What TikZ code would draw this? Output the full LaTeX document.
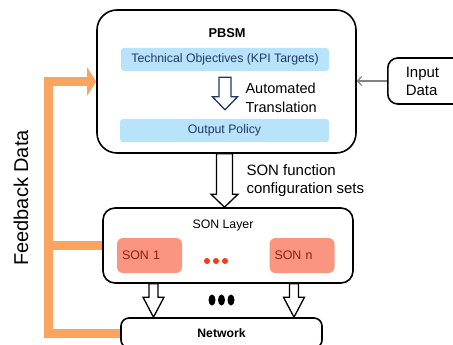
\documentclass[tikz,border=0pt]{standalone}
\usepackage{fontspec}
\setmainfont{Liberation Sans}
\usetikzlibrary{arrows.meta,calc}

\definecolor{barblue}{RGB}{185,227,250}
\definecolor{navy}{RGB}{31,56,100}
\definecolor{salmon}{RGB}{250,150,128}
\definecolor{sontext}{RGB}{140,30,20}
\definecolor{dotred}{RGB}{245,60,20}
\definecolor{fborange}{RGB}{250,165,95}
\definecolor{linegray}{RGB}{130,130,130}

\tikzset{
	box/.style={draw, fill=white, line width=1.6pt, rounded corners=#1},
	box/.default=10pt,
	bar/.style={fill=barblue, rounded corners=3pt, text=navy, inner sep=0pt,
		font=\fontsize{12.3}{14}\selectfont},
	sonbox/.style={fill=salmon, rounded corners=6pt, text=sontext, align=left,
		text width=55pt, inner xsep=5pt, font=\fontsize{12.4}{14}\selectfont},
	hollow/.style={draw=black, fill=white, line width=1.3pt},
	feedback/.style={draw=fborange, line width=9pt},
	inputline/.style={draw=linegray, line width=1.2pt}
}

% vertical block arrow: style, start, tip, shaft half width, head half width, head length
\newcommand{\blockdown}[6]{%
	\draw[#1] let \p1=(#2), \p2=(#3) in
		(\x1-#4,\y1) -- (\x1-#4,\y2+#6) -- (\x1-#5,\y2+#6) -- (\x1,\y2)
		-- (\x1+#5,\y2+#6) -- (\x1+#4,\y2+#6) -- (\x1+#4,\y1) -- cycle;}

\begin{document}
\begin{tikzpicture}[x=1pt,y=-1pt]
		\fill[white] (0,0) rectangle (453,345);
		\useasboundingbox (0,0) rectangle (453,345);

		% boxes
		\node[box=20pt, minimum width=259pt, minimum height=143pt] (pbsm) at (226.5,81.5) {};
		\node[box=12pt, minimum width=250pt, minimum height=75pt] (sonlayer) at (228,245.5) {};
		\node[box=8pt, minimum width=201pt, minimum height=30pt,
			font=\bfseries\fontsize{12.2}{14}\selectfont] (net) at (221.5,333) {Network};
		\node[box=10pt, anchor=west, text width=50pt, inner xsep=18pt, minimum height=46pt,
			align=left, font=\fontsize{15}{18}\selectfont] (input) at (387,81) {Input\\Data};

		% feedback loop
		\coordinate (fb) at (48.5,0);
		\draw[feedback, -{Triangle[length=9pt,width=28pt]}] (net.west) -| (fb |- pbsm.west) -- (pbsm.west);
		\draw[feedback] (sonlayer.west) -- (fb |- sonlayer.west);
		\node[rotate=90, font=\fontsize{20}{24}\selectfont] (fblabel) at (21,198) {Feedback Data};

		% input
		\draw[inputline, -{Straight Barb[length=4pt,width=9pt]}] (input.west) -- (input.west -| pbsm.east);

		% PBSM content
		\node[font=\bfseries\fontsize{12.8}{14}\selectfont] (pbsmlabel) at (227,33) {PBSM};
		\node[bar, minimum width=208pt, minimum height=23pt] (tech) at (225,59.5) {Technical Objectives (KPI Targets)};
		\node[bar, minimum width=209pt, minimum height=23pt] (policy) at (224.5,130.5) {Output Policy};
		\blockdown{hollow, draw=navy}{$(tech.south)+(0,6)$}{$(policy.north)+(0,-9)$}{6pt}{12.5pt}{13pt}
		\node[anchor=west, align=left, font=\fontsize{14.5}{19}\selectfont] (translation) at (242,97.5) {Automated\\Translation};

		% PBSM to SON layer
		\blockdown{hollow}{$(pbsm.south)+(-2,0)$}{$(pbsm.south |- sonlayer.north)+(-2,0)$}{8pt}{13.5pt}{13pt}
		\node[anchor=west, align=left, font=\fontsize{15}{18}\selectfont] (config) at (243,181) {SON function\\configuration sets};

		% SON layer content
		\node[font=\fontsize{12.3}{14}\selectfont] (sonlabel) at (223,225) {SON Layer};
		\node[sonbox, minimum height=35pt] (son1) at (149.5,255.5) {SON 1};
		\node[sonbox, minimum height=35pt] (sonn) at (302,255.5) {SON n};
		\foreach \x in {207,216,225} \fill[dotred] (\x,261) circle (3pt);

		% SON layer to network
		\blockdown{hollow}{153.5,0 |- sonlayer.south}{153.5,0 |- net.north}{4.5pt}{10.5pt}{20pt}
		\blockdown{hollow}{294,0 |- sonlayer.south}{294,0 |- net.north}{4.5pt}{10.5pt}{20pt}
		\foreach \x in {212,221.5,231} \fill (\x,300) ellipse (3.5pt and 5.5pt);

	\end{tikzpicture}
\end{document}
